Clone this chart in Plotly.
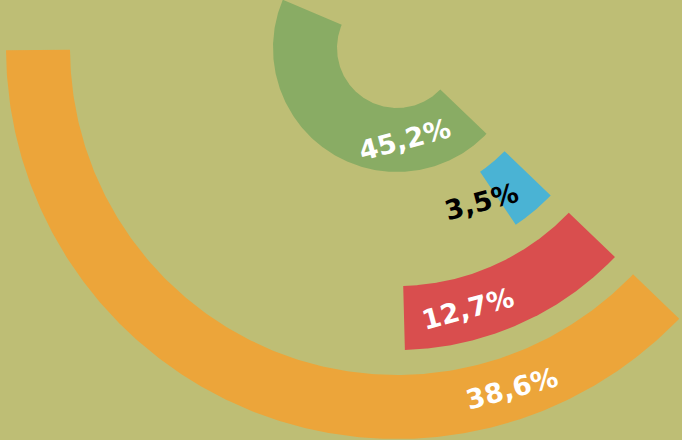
import numpy as np
import plotly.graph_objects as go

# ---- data ----
labels = ["45,2%", "3,5%", "12,7%", "38,6%"]
values = [45.2, 3.5, 12.7, 38.6]
colors = ["#89AC64", "#4AB3D4", "#D94E4E", "#ECA53A"]
label_colors = ["white", "black", "white", "white"]

# ---- geometry / style ----
BG = "#BEBE75"
END_ANGLE = -43.8          # degrees (math convention), where every bar ends
DEG_PER_PCT = 3.52         # angular sweep per percent
INNER0 = 60.0              # inner radius of innermost ring
PITCH = 89.0               # ring spacing
WIDTH = 64.0               # ring thickness
label_angles = [-85.0, -61.0, -74.7, -71.4]
label_rot = -15

fig = go.Figure()

for i, (v, c) in enumerate(zip(values, colors)):
    r_in = INNER0 + PITCH * i
    r_out = r_in + WIDTH
    span = v * DEG_PER_PCT
    a0 = np.radians(END_ANGLE - span)
    a1 = np.radians(END_ANGLE)
    t = np.linspace(a0, a1, 240)
    xs = np.concatenate([r_out * np.cos(t), r_in * np.cos(t[::-1])])
    ys = np.concatenate([r_out * np.sin(t), r_in * np.sin(t[::-1])])
    xs = np.append(xs, xs[0])
    ys = np.append(ys, ys[0])
    fig.add_trace(go.Scatter(x=xs, y=ys, mode="lines", fill="toself",
                             fillcolor=c, line=dict(width=0, color=c),
                             hoverinfo="skip", showlegend=False))

for i, (lab, lc, la) in enumerate(zip(labels, label_colors, label_angles)):
    r_mid = INNER0 + PITCH * i + WIDTH / 2
    if i == 1:
        r_mid -= 6
    ang = np.radians(la)
    fig.add_annotation(x=r_mid * np.cos(ang), y=r_mid * np.sin(ang),
                       text="<b>%s</b>" % lab, showarrow=False,
                       textangle=label_rot,
                       font=dict(family="DejaVu Sans", size=27, color=lc),
                       xanchor="center", yanchor="middle")

fig.update_layout(
    width=682, height=440,
    margin=dict(l=0, r=0, t=0, b=0),
    paper_bgcolor=BG, plot_bgcolor=BG,
    xaxis=dict(range=[-397, 285], visible=False, fixedrange=True),
    yaxis=dict(range=[-392, 48], visible=False, fixedrange=True),
    showlegend=False,
)

fig.write_html("out.html",
               config={"displayModeBar": False},
               post_script="document.body.style.margin='0px';"
                           "document.body.style.background='%s';" % BG)
